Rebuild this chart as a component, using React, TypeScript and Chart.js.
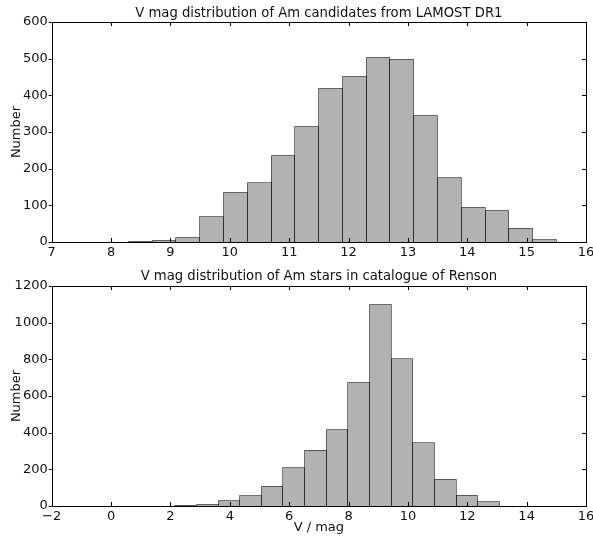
import React, { useEffect, useRef } from "react";
import { Chart, registerables } from "chart.js";

Chart.register(...registerables);

// ---- Data ----
const topTitle = "V mag distribution of Am candidates from LAMOST DR1";
const topBinCenters = [7.690, 8.091, 8.491, 8.892, 9.292, 9.693, 10.094, 10.494, 10.895, 11.295, 11.696, 12.097, 12.497, 12.898, 13.298, 13.699, 14.100, 14.500, 14.901, 15.301];
const topCounts = [0, 0, 2, 5, 12, 69, 136, 161, 236, 315, 419, 452, 504, 499, 345, 175, 95, 86, 38, 6];
const topXTicks = [7, 8, 9, 10, 11, 12, 13, 14, 15, 16];
const topYTicks = [0, 100, 200, 300, 400, 500, 600];

const bottomTitle = "V mag distribution of Am stars in catalogue of Renson";
const bottomBinCenters = [-1.1355, -0.4065, 0.3225, 1.0515, 1.7805, 2.5095, 3.2385, 3.9675, 4.6965, 5.4255, 6.1545, 6.8835, 7.6125, 8.3415, 9.0705, 9.7995, 10.5285, 11.2575, 11.9865, 12.7155];
const bottomCounts = [0, 0, 0, 0, 0, 5, 9, 28, 56, 109, 209, 305, 416, 673, 1099, 802, 344, 147, 60, 23];
const bottomXTicks = [-2, 0, 2, 4, 6, 8, 10, 12, 14, 16];
const bottomYTicks = [0, 200, 400, 600, 800, 1000, 1200];

const yLabel = "Number";
const xLabel = "V / mag";

const FONT = "'DejaVu Sans', sans-serif";
const TEXT = "#111";

const frameTicks = {
  id: "frameTicks",
  afterDatasetsDraw(chart: any, _args: any, opts: any) {
    const { ctx, chartArea } = chart;
    const { left, right, top, bottom } = chartArea;
    const L = 4;
    ctx.save();
    // bar edges, stroked on the bin edges
    const meta = chart.getDatasetMeta(0);
    ctx.strokeStyle = "rgba(0,0,0,0.5)";
    ctx.lineWidth = 1;
    meta.data.forEach((bar: any) => {
      const props = bar.getProps(["x", "y", "base", "width"], true);
      if (Math.abs(props.base - props.y) < 0.01) return;
      const x0 = Math.floor(props.x - props.width / 2) + 0.5;
      const x1 = Math.floor(props.x + props.width / 2) + 0.5;
      const y0 = Math.floor(props.y) + 0.5;
      const yb = Math.round(props.base) + 0.5;
      ctx.beginPath();
      ctx.moveTo(x0, yb);
      ctx.lineTo(x0, y0);
      ctx.lineTo(x1, y0);
      ctx.lineTo(x1, yb);
      ctx.stroke();
    });
    ctx.strokeStyle = "#000";
    ctx.beginPath();
    const xs = chart.scales.x;
    const ys = chart.scales.y;
    xs.ticks.forEach((t: any) => {
      const px = Math.round(xs.getPixelForValue(t.value)) + 0.5;
      ctx.moveTo(px, bottom);
      ctx.lineTo(px, bottom - L);
      ctx.moveTo(px, top);
      ctx.lineTo(px, top + L);
    });
    ys.ticks.forEach((t: any) => {
      const py = Math.round(ys.getPixelForValue(t.value)) + 0.5;
      ctx.moveTo(left, py);
      ctx.lineTo(left - 3, py);
      ctx.moveTo(right, py);
      ctx.lineTo(right - L, py);
    });
    ctx.stroke();
    ctx.strokeRect(Math.round(left) + 0.5, Math.round(top) + 0.5, Math.round(right - left), Math.round(bottom - top));
    // title centred over the plot area
    if (opts && opts.text) {
      ctx.fillStyle = TEXT;
      ctx.font = `normal 13.2px ${FONT}`;
      ctx.textAlign = "center";
      ctx.textBaseline = "middle";
      ctx.fillText(opts.text, (left + right) / 2, opts.y);
    }
    ctx.restore();
  },
};

function fmt(v: number) {
  return String(v).replace("-", "\u2212");
}

type Props = {
  width: number;
  height: number;
  title: string;
  titleY: number;
  top: number;
  centers: number[];
  counts: number[];
  xTicks: number[];
  yTicks: number[];
  xTitle?: string;
  xHeight: number;
};

function Hist(p: Props) {
  const ref = useRef<HTMLCanvasElement>(null);
  useEffect(() => {
    if (!ref.current) return;
    const xMin = p.xTicks[0];
    const xMax = p.xTicks[p.xTicks.length - 1];
    const yMax = p.yTicks[p.yTicks.length - 1];
    const xStep = p.xTicks[1] - p.xTicks[0];
    const yStep = p.yTicks[1] - p.yTicks[0];
    const chart = new Chart(ref.current, {
      type: "bar",
      data: {
        datasets: [
          {
            data: p.centers.map((x, i) => ({ x, y: p.counts[i] })),
            backgroundColor: "#b2b2b2",
            borderWidth: 0,
            inflateAmount: 0,
            barPercentage: 1,
            categoryPercentage: 1,
            grouped: false,
          } as any,
        ],
      },
      options: {
        animation: false,
        responsive: false,
        devicePixelRatio: 1,
        layout: { padding: { left: 0, right: 7, top: p.top, bottom: 0 } },
        plugins: {
          legend: { display: false },
          tooltip: { enabled: false },
          title: { display: false },
          frameTicks: { text: p.title, y: p.titleY },
        } as any,
        scales: {
          x: {
            type: "linear",
            min: xMin,
            max: xMax,
            offset: false,
            grid: { display: false, drawTicks: false },
            border: { display: false },
            ticks: {
              stepSize: xStep,
              color: TEXT,
              padding: 3,
              maxRotation: 0,
              autoSkip: false,
              font: { family: FONT, size: 13 },
              callback: (v: any) => fmt(v),
            },
            title: p.xTitle
              ? {
                  display: true,
                  text: p.xTitle,
                  color: TEXT,
                  font: { family: FONT, size: 13 },
                  padding: { top: 0, bottom: 1.4 },
                }
              : { display: false },
            afterFit: (s: any) => {
              s.height = p.xHeight;
              s.paddingLeft = 0;
              s.paddingRight = 0;
            },
          } as any,
          y: {
            type: "linear",
            min: 0,
            max: yMax,
            grid: { display: false, drawTicks: false },
            border: { display: false },
            ticks: {
              stepSize: yStep,
              color: TEXT,
              padding: 4,
              font: { family: FONT, size: 13 },
              callback: (v: any) => fmt(v),
            },
            title: {
              display: true,
              text: yLabel,
              color: TEXT,
              font: { family: FONT, size: 13 },
              padding: { top: 8.6, bottom: 0 },
            },
            afterFit: (s: any) => {
              s.width = 51.7;
              s.paddingTop = 0;
              s.paddingBottom = 0;
            },
          } as any,
        },
      },
      plugins: [frameTicks],
    });
    return () => chart.destroy();
  }, []);
  return <canvas ref={ref} width={p.width} height={p.height} style={{ display: "block" }} />;
}

export default function App() {
  return (
    <div style={{ position: "fixed", left: 0, top: 0, width: 593, height: 537, background: "#fff" }}>
      <Hist
        width={593}
        height={262}
        title={topTitle}
        titleY={13.5}
        top={22}
        centers={topBinCenters}
        counts={topCounts}
        xTicks={topXTicks}
        yTicks={topYTicks}
        xHeight={20}
      />
      <Hist
        width={593}
        height={275}
        title={bottomTitle}
        titleY={15}
        top={24}
        centers={bottomBinCenters}
        counts={bottomCounts}
        xTicks={bottomXTicks}
        yTicks={bottomYTicks}
        xTitle={xLabel}
        xHeight={31}
      />
    </div>
  );
}
